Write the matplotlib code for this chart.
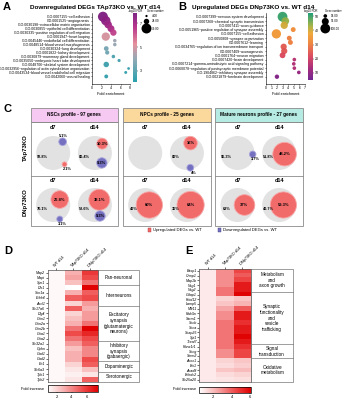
import numpy as np
import matplotlib
matplotlib.use("Agg")
import matplotlib.pyplot as plt
from matplotlib.colors import LinearSegmentedColormap
from matplotlib.patches import Circle, Rectangle

plt.rcParams['font.family'] = ['Liberation Sans', 'DejaVu Sans']

# ---------------- DATA ----------------
go_terms_a = ["GO:0007155~cell adhesion", "GO:0001525~angiogenesis",
              "GO:0030198~extracellular matrix organization",
              "GO:0030855~epithelial cell differentiation",
              "GO:0030335~positive regulation of cell migration",
              "GO:0001947~heart looping",
              "GO:0045446~endothelial cell differentiation",
              "GO:0048514~blood vessel morphogenesis",
              "GO:0030324~lung development",
              "GO:0001822~kidney development",
              "GO:0030879~mammary gland development",
              "GO:0035050~embryonic heart tube development",
              "GO:0048706~skeletal system development",
              "GO:0032956~regulation of actin cytoskeleton organization",
              "GO:0043534~blood vessel endothelial cell migration",
              "GO:0042060~wound healing"]
fold_a = [2.3, 2.9, 3.4, 4.0, 4.5, 2.9, 4.8, 4.8, 3.0, 3.2, 4.5, 5.7, 3.0, 7.7, 7.1, 3.0]
fdr_a = [7.8, 7.5, 7.2, 6.9, 6.4, 5.0, 4.2, 4.1, 3.6, 3.5, 2.8, 2.7, 2.6, 2.5, 2.4, 2.4]
genes_a = [79, 70, 45, 38, 32, 55, 10, 10, 18, 14, 10, 8, 24, 6, 7, 12]
size_leg_a = [4, 24, 79]
cbar_ticks_a = [7, 5, 3]

go_terms_b = ["GO:0007399~nervous system development",
              "GO:0007268~chemical synaptic transmission",
              "GO:0007411~axon guidance",
              "GO:0051965~positive regulation of synapse assembly",
              "GO:0007155~cell adhesion",
              "GO:0050808~synapse organization",
              "GO:0007612~learning",
              "GO:0034765~regulation of ion transmembrane transport",
              "GO:0007409~axonogenesis",
              "GO:0001764~neuron migration",
              "GO:0007420~brain development",
              "GO:0007214~gamma-aminobutyric acid signaling pathway",
              "GO:0060078~regulation of postsynaptic membrane potential",
              "GO:1904862~inhibitory synapse assembly",
              "GO:0021879~forebrain development"]
fold_b = [3.0, 3.5, 3.3, 4.9, 1.9, 4.2, 4.4, 3.2, 3.3, 3.0, 5.1, 5.0, 5.1, 5.9, 2.0]
fdr_b = [50, 44, 40, 33, 35, 30, 30, 25, 24, 22, 16, 15, 15, 11, 8]
genes_b = [100, 60, 55, 25, 90, 25, 25, 40, 40, 35, 14, 14, 14, 14, 20]
size_leg_b = [14, 51, 100]
cbar_ticks_b = [50, 40, 30, 20, 10]

profiles = ["NSCs profile - 97 genes", "NPCs profile - 25 genes",
            "Mature neurons profile - 27 genes"]
genotypes = ["TAp73KO", "DNp73KO"]
days = ["d7", "d14"]
# [profile][genotype][day] -> (up %, down %, unchanged %)
up_pct = [[[2.1, 10.3], [26.8, 38.1]],
          [[0.0, 16.0], [60.0, 64.0]],
          [[0.0, 48.2], [37.0, 59.3]]]
down_pct = [[[5.1, 9.3], [3.1, 9.3]],
            [[0.0, 4.0], [0.0, 0.0]],
            [[3.7, 0.0], [0.0, 0.0]]]
unch_pct = [[[92.8, 80.4], [70.1, 52.6]],
            [[100.0, 80.0], [40.0, 36.0]],
            [[96.3, 51.8], [63.0, 40.7]]]

hm_cols = ["WT d14", "TAp73KO d14", "DNp73KO d14"]
genes_d = ['Map2', 'Mapt', 'Syn1', 'Dlx1', 'Scn1a', 'Erbb4', 'Ascl1', 'Slc17a6',
           'Dlg4', 'Grin1', 'Grin2a', 'Grin2b', 'Gria1', 'Gria2', 'Slc32a1', 'Gphn',
           'Gad1', 'Gad2', 'En1', 'Slc6a3', 'Tph1', 'Tph2']
wt_d = [1.0, 1.0, 1.0, 1.0, 1.0, 1.0, 1.0, 1.0, 1.0, 1.0, 1.0,
        1.0, 1.0, 1.0, 1.0, 1.0, 1.0, 1.0, 1.0, 1.0, 1.0, 1.0]
tap_d = [3.0, 3.3, 2.5, 0.8, 3.0, 5.0, 2.0, 5.0, 2.0, 2.5, 3.0,
         4.5, 5.5, 4.5, 3.5, 2.5, 3.0, 3.0, 2.0, 1.5, 1.2, 1.5]
dn_d = [6.0, 5.5, 4.5, 7.5, 5.0, 5.5, 3.5, 3.0, 3.5, 3.5, 4.5,
        7.5, 6.5, 5.5, 5.0, 4.0, 4.0, 5.5, 5.0, 2.5, 1.5, 5.0]
groups_d = ["Pan-neuronal", "Interneurons",
            "Excitatory\nsynapsis\n(glutamatergic\nneurons)",
            "Inhibitory\nsynapsis\n(gabaergic)", "Dopaminergic", "Serotonergic"]
group_sizes_d = [3, 4, 7, 4, 2, 2]

genes_e = ['Basp1', 'Crmp1', 'Map1b', 'Nsg1', 'Nsg2', 'Gdap1', 'Kctd12', 'Lamp5',
           'Mllt11', 'Rab3a', 'Sarm1', 'Sncb', 'Snca', 'Snap25', 'Syt1', 'Tceal7',
           'Runx1t1', 'Sncg', 'Stmn2', 'Acox1', 'Eci1', 'Acad8', 'Echdc2', 'Slc25a20']
wt_e = [1.0, 1.0, 1.0, 1.0, 1.0, 1.0, 1.0, 1.0, 1.0, 1.0, 1.0, 1.0,
        1.0, 1.0, 1.0, 1.0, 1.0, 1.0, 1.0, 1.0, 1.0, 1.0, 1.0, 1.0]
tap_e = [3.0, 3.0, 3.0, 3.0, 3.5, 3.5, 1.5, 1.8, 2.5, 3.0, 3.0, 3.5,
         3.5, 3.5, 3.5, 3.5, 3.5, 3.0, 3.0, 1.5, 1.3, 1.8, 1.3, 1.1]
dn_e = [4.5, 4.0, 4.5, 5.5, 5.5, 6.0, 1.8, 2.2, 4.0, 5.5, 5.5, 5.0,
        5.5, 5.5, 6.0, 5.5, 5.0, 4.5, 4.5, 1.8, 1.6, 2.0, 1.5, 1.2]
groups_e = ["Metabolism\nand\naxon growth",
            "Synaptic\nfunctionality\nand\nvesicle\ntrafficking",
            "Signal\ntransduction", "Oxidative\nmetabolism"]
group_sizes_e = [5, 11, 3, 5]

# ---------------- FIGURE ----------------
W, H = 346, 400
fig = plt.figure(figsize=(W / 100, H / 100), dpi=100)


def ax_px(x0, y0, x1, y1):
    return fig.add_axes([x0 / W, 1 - y1 / H, (x1 - x0) / W, (y1 - y0) / H])


cmapA = LinearSegmentedColormap.from_list(
    'a', [(0, '#1E9BA9'), (0.33, '#8CA6B2'), (0.55, '#E58A97'),
          (0.8, '#B42C86'), (1, '#7A1A80')])
cmapB = LinearSegmentedColormap.from_list(
    'b', [(0, '#6A1B8A'), (0.15, '#9B1F7A'), (0.35, '#D9415A'), (0.55, '#EE8038'),
          (0.7, '#F0A530'), (0.82, '#9DB040'), (1, '#159A72')])
cmapH = LinearSegmentedColormap.from_list(
    'h', [(0, '#FFFFFF'), (0.35, '#F7A8A8'), (0.7, '#EE4848'), (1, '#E00000')])

KA, KB = 0.65, 0.5


def bubble(ax, terms, fold, fdr, genes, k, cmap, vmin, vmax, xmax, xticks, ylim):
    n = len(terms)
    y = np.arange(n)
    sc = ax.scatter(fold, y, s=np.array(genes) * k, c=fdr, cmap=cmap, vmin=vmin,
                    vmax=vmax, edgecolors='none', zorder=3, alpha=0.95, clip_on=False)
    ax.set_ylim(*ylim)
    ax.set_yticks(y)
    ax.set_yticklabels(terms, fontsize=1.8)
    ax.set_xlim(0, xmax)
    ax.set_xticks(xticks)
    ax.tick_params(labelsize=2.5, length=1, width=0.4, pad=0.6)
    for s in ['top', 'right']:
        ax.spines[s].set_visible(False)
    for s in ['left', 'bottom']:
        ax.spines[s].set_linewidth(0.4)
    ax.set_xlabel('Fold enrichment', fontsize=2.8, labelpad=1)
    return sc


# Panel A
axA = ax_px(92, 13.3, 130, 84)
scA = bubble(axA, go_terms_a, fold_a, fdr_a, genes_a, KA, cmapA, 2.1, 7.85, 8,
             [0, 2, 4, 6, 8], (16.9, -0.85))
caxA = ax_px(132.7, 13.3, 137.3, 81.7)
cbA = fig.colorbar(scA, cax=caxA, ticks=cbar_ticks_a)
cbA.outline.set_visible(False)
caxA.tick_params(labelsize=2.5, length=1, width=0.3, pad=0.6)

# Panel B
axB = ax_px(265.7, 13.3, 305, 84)
scB = bubble(axB, go_terms_b, fold_b, fdr_b, genes_b, KB, cmapB, 5, 52, 7,
             [0, 1, 2, 3, 4, 5, 6, 7], (15.7, -0.8))
caxB = ax_px(308.3, 13.3, 312.7, 80)
cbB = fig.colorbar(scB, cax=caxB, ticks=cbar_ticks_b)
cbB.outline.set_visible(False)
caxB.tick_params(labelsize=2.5, length=1, width=0.3, pad=0.6)


# Heatmaps
def heatmap(ax, genes, cols, vmin, vmax):
    M = np.array(cols).T
    im = ax.imshow(M, aspect='auto', cmap=cmapH, vmin=vmin, vmax=vmax,
                   interpolation='nearest')
    ax.set_yticks(np.arange(len(genes)))
    ax.set_yticklabels(genes, fontsize=2.6, style='italic')
    ax.xaxis.tick_top()
    ax.set_xticks(np.arange(len(hm_cols)))
    ax.set_xticklabels(hm_cols, rotation=45, ha='left', rotation_mode='anchor',
                       fontsize=2.8)
    ax.tick_params(length=1.2, width=0.4, pad=0.6)
    for s in ax.spines.values():
        s.set_linewidth(0.5)
        s.set_color('#555555')
    return im


axD = ax_px(47.7, 270, 98.3, 381.7)
imD = heatmap(axD, genes_d, [wt_d, tap_d, dn_d], 0.8, 7.6)
caxD = ax_px(47.7, 384.5, 98.3, 392)
cbD = fig.colorbar(imD, cax=caxD, orientation='horizontal', ticks=[2, 4, 6])
cbD.outline.set_linewidth(0.5)
caxD.tick_params(labelsize=3, length=1, width=0.3, pad=0.8)

axE = ax_px(199.3, 268.5, 251, 382)
imE = heatmap(axE, genes_e, [wt_e, tap_e, dn_e], 0.5, 6.1)
caxE = ax_px(199.3, 386.5, 251, 392.5)
cbE = fig.colorbar(imE, cax=caxE, orientation='horizontal', ticks=[2, 4, 6])
cbE.outline.set_linewidth(0.5)
caxE.tick_params(labelsize=3, length=1, width=0.3, pad=0.8)

# Overlay in pixel coordinates
ov = fig.add_axes([0, 0, 1, 1])
ov.set_xlim(0, W)
ov.set_ylim(H, 0)
ov.axis('off')
ov.patch.set_visible(False)

# Letters and titles
for lt, (x, y) in zip("ABCDE", [(3, 7), (178, 7), (3, 109), (4, 251), (185, 251)]):
    ov.text(x, y, lt, fontsize=8, fontweight='bold', ha='left', va='center')
ov.text(95, 7.5, "Downregulated DEGs TAp73KO vs. WT d14", fontsize=4.6,
        fontweight='bold', ha='center', va='center')
ov.text(253, 7.5, "Upregulated DEGs DNp73KO vs. WT d14", fontsize=4.6,
        fontweight='bold', ha='center', va='center')
ov.text(135.5, 11.3, "-log10 FDR", fontsize=2.0, ha='center', va='center')
ov.text(311, 11.3, "log10 FDR", fontsize=2.0, ha='center', va='center')

# size legends
for (xd, xt, xtitle, vals, k) in [(146.5, 150.5, 155, size_leg_a, KA),
                                  (325.3, 329.5, 333.5, size_leg_b, KB)]:
    ov.text(xtitle, 11.3, "Gene number", fontsize=2.0, ha='center', va='center')
    for v, yy in zip(vals, [16, 21.5, 28.5]):
        ov.scatter([xd], [yy], s=v * k, c='black', edgecolors='none')
        ov.text(xt + 1, yy, f"{v:.2f}", fontsize=2.2, ha='left', va='center')

# Panel C
R = 17.0
box_x = [(30.7, 117.7), (122.7, 210.7), (215.0, 302.7)]
head_cols = ['#F6C9F2', '#FBD89C', '#B5EBE2']
top, head_bot, mid, bot = 107.5, 121.5, 175.7, 225.7
row_c = [153.0, 205.0]
ang_up = [[[-45, 52], [40, 50]], [[0, 70], [0, 0]], [[0, -12], [0, 0]]]
ang_dn = [[[50, -55], [-65, -65]], [[0, -77], [0, 0]], [[-5, 0], [0, 0]]]
red, blue, grey = '#F26B6B', '#7570C0', '#E2E2E2'
for p in range(3):
    x0, x1 = box_x[p]
    ov.add_patch(Rectangle((x0, top), x1 - x0, head_bot - top, facecolor=head_cols[p],
                           edgecolor='#8A8A8A', lw=0.6))
    ov.add_patch(Rectangle((x0, head_bot), x1 - x0, bot - head_bot, facecolor='none',
                           edgecolor='#8A8A8A', lw=0.6))
    ov.plot([x0, x1], [mid, mid], color='#8A8A8A', lw=0.6)
    ov.text((x0 + x1) / 2, (top + head_bot) / 2, profiles[p], fontsize=3.4,
            fontweight='bold', ha='center', va='center')
    cx = [x0 + 22.5, x0 + 64.2]
    for g in range(2):
        for d in range(2):
            gx, gy = cx[d], row_c[g]
            ov.text(gx, gy - 25.5 if g == 0 else gy - 24, days[d], fontsize=4,
                    fontweight='bold', ha='center', va='center')
            ov.add_patch(Circle((gx, gy), R, facecolor=grey, edgecolor='none'))
            ov.text(gx - 11, gy + 4.5, f"{unch_pct[p][g][d]:g}%" if unch_pct[p][g][d] < 100 else "",
                    fontsize=2.8, fontweight='bold', ha='center', va='center')
            for pct, ang, col, ec in [(up_pct[p][g][d], ang_up[p][g][d], red, '#F7A9A9'),
                                      (down_pct[p][g][d], ang_dn[p][g][d], blue, '#A9A6DD')]:
                if pct <= 0:
                    continue
                r = R * np.sqrt(pct / 100)
                dist = R - r + (1.5 if r < 4 else 0.3)
                th = np.deg2rad(ang)
                ccx, ccy = gx + dist * np.cos(th), gy - dist * np.sin(th)
                ov.add_patch(Circle((ccx, ccy), r, facecolor=col, edgecolor=ec, lw=0.6))
                lab = f"{pct:g}%"
                if r >= 5:
                    ov.text(ccx, ccy, lab, fontsize=2.9, fontweight='bold',
                            ha='center', va='center')
                elif ang > 0:
                    ov.text(ccx + 1, ccy - r - 2.2, lab, fontsize=2.8, fontweight='bold',
                            ha='center', va='center')
                else:
                    ov.text(ccx + 3, ccy + r + 1.8, lab, fontsize=2.8, fontweight='bold',
                            ha='center', va='center')
for g in range(2):
    ov.text(25, [148, 202][g], genotypes[g], fontsize=4.3, fontweight='bold',
            rotation=90, ha='center', va='center')
# legend C
ov.add_patch(Rectangle((147.5, 228.2), 3.6, 3.6, facecolor=red, edgecolor='#B03030', lw=0.3))
ov.text(153, 230, "Upregulated DEGs vs. WT", fontsize=3, ha='left', va='center')
ov.add_patch(Rectangle((217.5, 228.2), 3.6, 3.6, facecolor=blue, edgecolor='#404080', lw=0.3))
ov.text(223, 230, "Downregulated DEGs vs. WT", fontsize=3, ha='left', va='center')


# group boxes for heatmaps
def group_box(x0, x1, ytop, ybot, names, sizes):
    n = sum(sizes)
    rh = (ybot - ytop) / n
    ov.add_patch(Rectangle((x0, ytop), x1 - x0, ybot - ytop, facecolor='none',
                           edgecolor='#777777', lw=0.5))
    start = 0
    for name, sz in zip(names, sizes):
        y0 = ytop + start * rh
        y1 = y0 + sz * rh
        if start > 0:
            ov.plot([x0, x1], [y0, y0], color='#777777', lw=0.5)
        ov.text((x0 + x1) / 2, (y0 + y1) / 2, name, fontsize=3.3, ha='center',
                va='center', linespacing=1.15)
        start += sz


group_box(98.3, 139.3, 270, 381.7, groups_d, group_sizes_d)
group_box(251, 293.3, 268.5, 382, groups_e, group_sizes_e)
ov.text(44, 388.5, "Fold increase", fontsize=2.8, ha='right', va='center')
ov.text(196, 389.5, "Fold increase", fontsize=2.8, ha='right', va='center')

fig.savefig("out.png", dpi=100)
